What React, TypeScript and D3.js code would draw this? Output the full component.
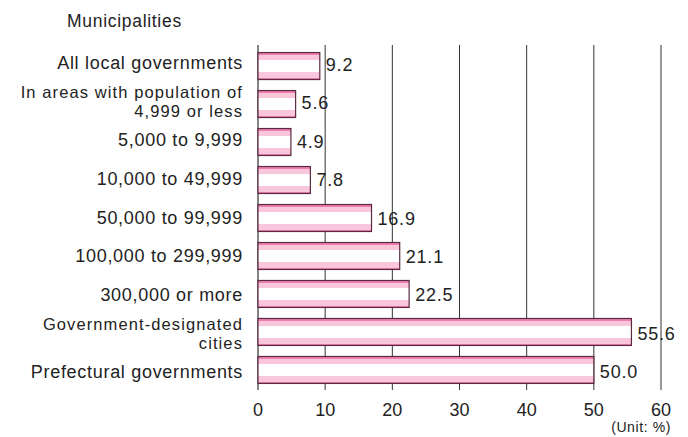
import React from "react";
import * as d3 from "d3";

const categories: string[][] = [
  ["All local governments"],
  ["In areas with population of", "4,999 or less"],
  ["5,000 to 9,999"],
  ["10,000 to 49,999"],
  ["50,000 to 99,999"],
  ["100,000 to 299,999"],
  ["300,000 or more"],
  ["Government-designated", "cities"],
  ["Prefectural governments"],
];
const values: number[] = [9.2, 5.6, 4.9, 7.8, 16.9, 21.1, 22.5, 55.6, 50.0];
const xTicks: number[] = [0, 10, 20, 30, 40, 50, 60];

const W = 688;
const H = 437;
const left = 258;
const right = 661;
const top = 45;
const bottom = 390;

export default function App() {
  const x = d3.scaleLinear().domain([0, 60]).range([left, right]);
  const y = d3
    .scaleBand<number>()
    .domain(d3.range(categories.length))
    .range([48, 388])
    .paddingInner(0.29)
    .paddingOuter(0.12);
  const bh = y.bandwidth();
  const font = "Liberation Sans, Arial, Helvetica, sans-serif";
  return (
    <svg width={W} height={H} style={{ position: "absolute", left: 0, top: 0 }} fontFamily={font}>
      <defs>
        <linearGradient id="barg" x1="0" y1="0" x2="0" y2="1">
          <stop offset="0" stopColor="#ee7fae" />
          <stop offset="0.08" stopColor="#ee7fae" />
          <stop offset="0.08" stopColor="#f9c6db" />
          <stop offset="0.28" stopColor="#f9c6db" />
          <stop offset="0.28" stopColor="#ffffff" />
          <stop offset="0.72" stopColor="#ffffff" />
          <stop offset="0.72" stopColor="#f9c6db" />
          <stop offset="0.93" stopColor="#f9c6db" />
          <stop offset="0.93" stopColor="#ee7fae" />
          <stop offset="1" stopColor="#ee7fae" />
        </linearGradient>
      </defs>
      <rect x={0} y={0} width={W} height={H} fill="#fff" />
      <text x={67} y={27} fontSize={17.5} letterSpacing={0.7} fill="#222">Municipalities</text>
      {xTicks.slice(1).map((t) => (
        <line key={t} x1={x(t)} x2={x(t)} y1={top} y2={bottom} stroke="#333" strokeWidth={1} />
      ))}
      <line x1={left} x2={left} y1={top} y2={bottom} stroke="#333" strokeWidth={1.2} />
      {values.map((v, i) => {
        const cy = y(i)! + bh / 2;
        const lines = categories[i];
        const multi = lines.length > 1;
        return (
          <g key={i}>
            <rect
              x={x(0)}
              y={y(i)!}
              width={x(v) - x(0)}
              height={bh}
              fill="url(#barg)"
              stroke="#5a2a42"
              strokeWidth={1.2}
            />
            <text x={x(v) + 6} y={cy + 5 + 0.4 * i} fontSize={18} letterSpacing={0.8} fill="#222">
              {v.toFixed(1)}
            </text>
            {lines.map((ln, j) => (
              <text
                key={j}
                x={243}
                y={cy + 2.5 + 0.75 * i + (j - (lines.length - 1) / 2) * 19}
                fontSize={multi ? 16.5 : 18}
                letterSpacing={multi ? 1.1 : 0.7}
                fill="#222"
                textAnchor="end"
              >
                {ln}
              </text>
            ))}
          </g>
        );
      })}
      {xTicks.map((t) => (
        <text key={t} x={x(t)} y={416} fontSize={18} fill="#222" textAnchor="middle">
          {t}
        </text>
      ))}
      <text x={671} y={432} fontSize={14} letterSpacing={0.6} fill="#222" textAnchor="end">(Unit: %)</text>
    </svg>
  );
}
